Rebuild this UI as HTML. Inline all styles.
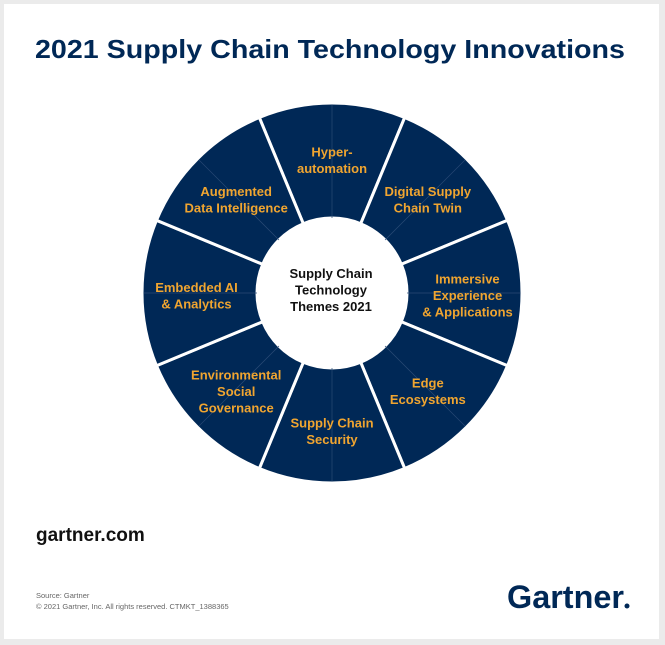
<!DOCTYPE html>
<html><head><meta charset="utf-8"><style>
body{margin:0;background:#ebebeb;width:665px;height:645px;overflow:hidden;font-family:"Liberation Sans",sans-serif}
#card{position:absolute;left:4px;top:4px;width:655px;height:635px;background:#fff}
</style></head><body>
<div id="card"></div>
<svg width="665" height="645" style="position:absolute;left:0;top:0">
<text x="35" y="58" font-size="26" font-weight="bold" fill="#002856" textLength="590" lengthAdjust="spacingAndGlyphs">2021 Supply Chain Technology Innovations</text>
<g id="wheel"></g>
<text x="36" y="541" font-size="19" font-weight="bold" fill="#111">gartner.com</text>
<text x="36" y="598" font-size="7.5" fill="#666">Source: Gartner</text>
<text x="36" y="609" font-size="7.5" fill="#666">© 2021 Gartner, Inc. All rights reserved. CTMKT_1388365</text>
<text x="507" y="608" font-size="32" font-weight="bold" fill="#002856" textLength="117" lengthAdjust="spacingAndGlyphs">Gartner</text>
<circle cx="627" cy="606" r="2.5" fill="#002856"/>
</svg>
<script>
const themes=[["Hyper-","automation"],["Digital Supply","Chain Twin"],["Immersive","Experience","& Applications"],["Edge","Ecosystems"],["Supply Chain","Security"],["Environmental","Social","Governance"],["Embedded AI","& Analytics"],["Augmented","Data Intelligence"]];
const centerLabel=["Supply Chain","Technology","Themes 2021"];
const cx=332,cy=293,R=190,r=75,NS="http://www.w3.org/2000/svg";
const g=document.getElementById('wheel');
function pt(a,rad){const t=(a-90)*Math.PI/180;return [cx+rad*Math.cos(t),cy+rad*Math.sin(t)];}
function mk(tag,attrs){const e=document.createElementNS(NS,tag);for(const k in attrs)e.setAttribute(k,attrs[k]);g.appendChild(e);return e;}
const n=themes.length,step=360/n;
themes.forEach((lines,i)=>{
  const a0=i*step-step/2,a1=i*step+step/2;
  const [x0,y0]=pt(a0,R),[x1,y1]=pt(a1,R),[x2,y2]=pt(a1,r),[x3,y3]=pt(a0,r);
  const p=mk('path',{d:`M${x0},${y0}A${R},${R} 0 0 1 ${x1},${y1}L${x2},${y2}A${r},${r} 0 0 0 ${x3},${y3}Z`,fill:'#002856',stroke:'#fff','stroke-width':3});
  
  
  const [mx0,my0]=pt(i*step,r),[mx1,my1]=pt(i*step,R-2);
  const l=mk('line',{x1:mx0,y1:my0,x2:mx1,y2:my1,stroke:'#2a4a75','stroke-width':0.7});
  
  
  const [tx,ty]=pt(i*step,(R+r)/2+3);
  const t=mk('text',{x:tx,'text-anchor':'middle','font-size':13,'font-weight':'bold',fill:'#f0a530'});
  
  
  lines.forEach((s,j)=>{const ts=document.createElementNS(NS,'tspan');ts.setAttribute('x',tx);ts.setAttribute('y',ty+(j-(lines.length-1)/2)*16.5+7);ts.textContent=s;t.appendChild(ts);});
});
const c=mk('circle',{cx:cx,cy:cy,r:r-1,fill:'#fff'});


const ct=mk('text',{'text-anchor':'middle','font-size':13,'font-weight':'bold',fill:'#111'});


centerLabel.forEach((s,j)=>{const ts=document.createElementNS(NS,'tspan');ts.setAttribute('x',cx-1);ts.setAttribute('y',cy+(j-1)*16.5+4.5-3);ts.textContent=s;ct.appendChild(ts);});
</script>
</body></html>
